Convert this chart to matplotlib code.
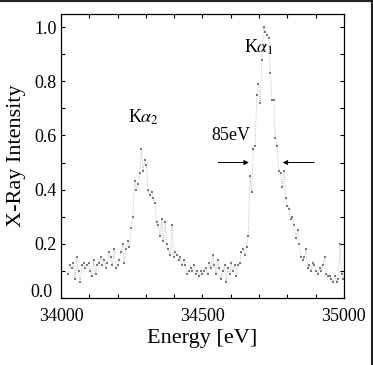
import numpy as np
import matplotlib
matplotlib.use('Agg')
import matplotlib.pyplot as plt
import matplotlib.transforms as mtransforms
from matplotlib.ticker import MultipleLocator, FuncFormatter

# --- data (energy in eV, normalised intensity) ---
energy = [
    34026, 34032, 34038, 34044, 34050, 34056, 34062, 34068, 34074, 34080,
    34086, 34092, 34098, 34104, 34110, 34116, 34122, 34128, 34134, 34140,
    34146, 34152, 34158, 34164, 34170, 34176, 34182, 34188, 34194, 34200,
    34206, 34212, 34218, 34224, 34230, 34236, 34242, 34248, 34254, 34260,
    34266, 34272, 34278, 34284, 34290, 34296, 34302, 34308, 34314, 34320,
    34326, 34332, 34338, 34344, 34350, 34356, 34362, 34368, 34374, 34380,
    34386, 34392, 34398, 34404, 34410, 34416, 34422, 34428, 34434, 34440,
    34446, 34452, 34458, 34464, 34470, 34476, 34482, 34488, 34494, 34500,
    34506, 34512, 34518, 34524, 34530, 34536, 34542, 34548, 34554, 34560,
    34566, 34572, 34578, 34584, 34590, 34596, 34602, 34608, 34614, 34620,
    34626, 34632, 34638, 34644, 34650, 34656, 34662, 34668, 34674, 34680,
    34686, 34692, 34698, 34704, 34710, 34716, 34722, 34728, 34734, 34740,
    34746, 34752, 34758, 34764, 34770, 34776, 34782, 34788, 34794, 34800,
    34806, 34812, 34818, 34824, 34830, 34836, 34842, 34848, 34854, 34860,
    34866, 34872, 34878, 34884, 34890, 34896, 34902, 34908, 34914, 34920,
    34926, 34932, 34938, 34944, 34950, 34956, 34962, 34968, 34974, 34980,
    34986, 34992, 34998,
]
intensity = [
    0.09, 0.12, 0.11, 0.13, 0.07, 0.15, 0.10, 0.06, 0.12, 0.13,
    0.11, 0.12, 0.13, 0.10, 0.08, 0.14, 0.09, 0.12, 0.13, 0.15,
    0.12, 0.14, 0.11, 0.13, 0.17, 0.15, 0.12, 0.18, 0.11, 0.12,
    0.14, 0.17, 0.20, 0.13, 0.18, 0.21, 0.19, 0.26, 0.30, 0.43,
    0.40, 0.42, 0.46, 0.55, 0.47, 0.51, 0.49, 0.40, 0.38, 0.39,
    0.37, 0.35, 0.28, 0.27, 0.23, 0.29, 0.21, 0.28, 0.20, 0.18,
    0.16, 0.27, 0.15, 0.17, 0.16, 0.14, 0.15, 0.12, 0.14, 0.12,
    0.09, 0.10, 0.11, 0.10, 0.12, 0.09, 0.10, 0.08, 0.10, 0.09,
    0.10, 0.11, 0.09, 0.13, 0.11, 0.16, 0.12, 0.09, 0.14, 0.11,
    0.07, 0.10, 0.12, 0.06, 0.11, 0.09, 0.13, 0.10, 0.12, 0.08,
    0.12, 0.13, 0.17, 0.18, 0.16, 0.19, 0.23, 0.45, 0.39, 0.55,
    0.56, 0.75, 0.79, 0.72, 0.88, 1.00, 0.98, 0.97, 0.96, 0.83,
    0.73, 0.73, 0.59, 0.56, 0.47, 0.46, 0.41, 0.47, 0.37, 0.34,
    0.33, 0.29, 0.30, 0.27, 0.22, 0.25, 0.20, 0.15, 0.14, 0.15,
    0.18, 0.11, 0.12, 0.10, 0.13, 0.12, 0.10, 0.09, 0.11, 0.10,
    0.12, 0.15, 0.09, 0.08, 0.08, 0.07, 0.06, 0.08, 0.06, 0.07,
    0.20, 0.09, 0.07,
]

# FWHM markers and labels
fwhm_left = 34674
fwhm_right = 34774
fwhm_level = 0.5
fwhm_label = '85eV'

plt.rcParams['font.family'] = ['Liberation Serif', 'DejaVu Serif']
plt.rcParams['mathtext.fontset'] = 'stix'

fig = plt.figure(figsize=(3.73, 3.65), dpi=100)
ax = fig.add_axes([0.1635, 0.1836, 0.7585, 0.778])

ax.plot(energy, intensity, ls=':', lw=0.6, color='#aaaaaa')
ax.plot(energy, intensity, ls='none', marker='s', ms=1.6, color='#7a7a7a', mew=0)

ax.set_xlim(34000, 35000)
ax.set_ylim(0, 1.048)
ax.xaxis.set_major_locator(MultipleLocator(500))
ax.xaxis.set_minor_locator(MultipleLocator(100))
ax.yaxis.set_major_locator(MultipleLocator(0.2))
ax.yaxis.set_minor_locator(MultipleLocator(0.1))
# "0.0" is drawn by hand below so it can sit a little higher
ax.yaxis.set_major_formatter(FuncFormatter(lambda v, p: '' if abs(v) < 1e-9 else f'{v:.1f}'))
ax.tick_params(which='both', direction='in', top=True, right=True,
               length=3, width=0.8, labelsize=13)
ax.tick_params(axis='x', pad=7)
ax.tick_params(axis='y', pad=3)
for s in ax.spines.values():
    s.set_linewidth(0.9)

zero_off = mtransforms.ScaledTranslation(-6 / 72, 4 / 72, fig.dpi_scale_trans)
ax.text(0, 0, '0.0', fontsize=13, ha='right', va='center',
        transform=ax.transAxes + zero_off)

ax.set_xlabel('Energy [eV]', fontsize=16, labelpad=3)
ax.set_ylabel('X-Ray Intensity', fontsize=16, labelpad=6)

ax.text(34700, 0.925, r'K$\alpha_1$', fontsize=13, ha='center', va='center')
ax.text(34290, 0.665, r'K$\alpha_2$', fontsize=13, ha='center', va='center')
ax.text(34602, 0.6, fwhm_label, fontsize=13, ha='center', va='center')

arrow = dict(arrowstyle='-|>', lw=0.7, color='black', mutation_scale=7)
ax.annotate('', xy=(fwhm_left, fwhm_level), xytext=(34545, fwhm_level), arrowprops=arrow)
ax.annotate('', xy=(fwhm_right, fwhm_level), xytext=(34905, fwhm_level), arrowprops=arrow)

# frame edges seen on the scanned figure
fig.add_artist(plt.Line2D([0, 1], [0.998, 0.998], color='#222222', lw=1.5, transform=fig.transFigure))
fig.add_artist(plt.Line2D([0.998, 0.998], [0, 1], color='#222222', lw=1.5, transform=fig.transFigure))

fig.savefig('out.png', dpi=100)
